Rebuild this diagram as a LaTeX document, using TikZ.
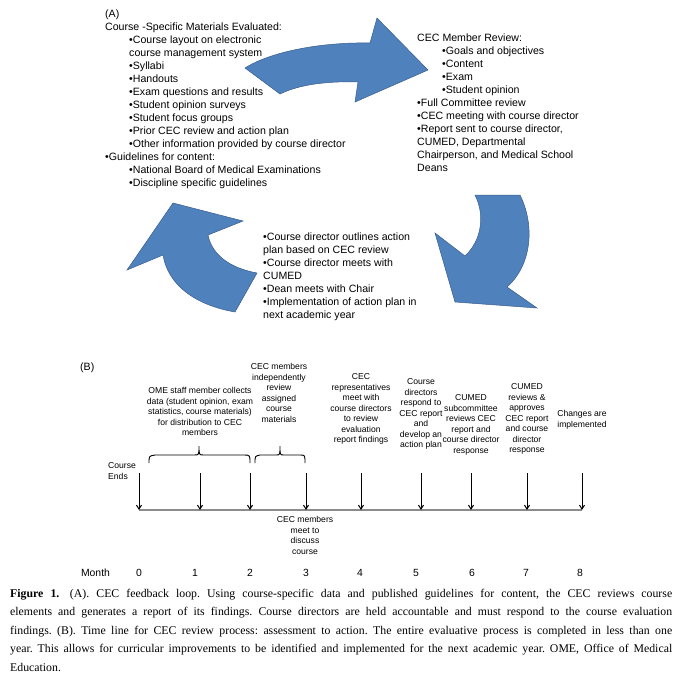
\documentclass[tikz,border=0pt]{standalone}
\usepackage{fontspec}
\setmainfont{Liberation Sans}
\newfontfamily\capfont{Liberation Serif}
\usetikzlibrary{arrows.meta}
\definecolor{arrowblue}{HTML}{4F81BD}
\definecolor{arrowedge}{HTML}{385D8A}
\definecolor{lineGray}{HTML}{8C8C8C}
\begin{document}
\begin{tikzpicture}[x=1pt,y=-1pt,
  loop/.style={fill=arrowblue,draw=arrowedge,line width=0.5pt},
  atext/.style={inner sep=0pt,align=left,anchor=north west,font=\fontsize{10.6}{13}\selectfont},
  btext/.style={inner sep=0pt,align=center,anchor=north,font=\fontsize{8.6}{10.5}\selectfont},
  mtext/.style={inner sep=0pt,anchor=center,font=\fontsize{10.4}{12}\selectfont},
  tick/.style={line width=1pt,-{Straight Barb[length=4pt,width=5pt]}},
  brk/.style={line width=0.9pt},
  timeline/.style={draw=lineGray,line width=1.1pt},
  ]
\useasboundingbox (0,0) rectangle (683,681);

% ---------- Part A ----------
\node[atext] (lblA) at (105,10) {(A)};
\node[atext] (inputs) at (105,23) {Course -Specific Materials Evaluated:\\
\hspace*{24pt}•Course layout on electronic\\
\hspace*{24pt}course management system\\
\hspace*{24pt}•Syllabi\\
\hspace*{24pt}•Handouts\\
\hspace*{24pt}•Exam questions and results\\
\hspace*{24pt}•Student opinion surveys\\
\hspace*{24pt}•Student focus groups\\
\hspace*{24pt}•Prior CEC review and action plan\\
\hspace*{24pt}•Other information provided by course director\\
•Guidelines for content:\\
\hspace*{24pt}•National Board of Medical Examinations\\
\hspace*{24pt}•Discipline specific guidelines};

\node[atext] (review) at (417,34) {CEC Member Review:\\
\hspace*{25pt}•Goals and objectives\\
\hspace*{25pt}•Content\\
\hspace*{25pt}•Exam\\
\hspace*{25pt}•Student opinion\\
•Full Committee review\\
•CEC meeting with course director\\
•Report sent to course director,\\
CUMED, Departmental\\
Chairperson, and Medical School\\
Deans};

\node[atext] (action) at (263,233) {•Course director outlines action\\
plan based on CEC review\\
•Course director meets with\\
CUMED\\
•Dean meets with Chair\\
•Implementation of action plan in\\
next academic year};

% blue loop arrows
\path[loop] (245,68) .. controls (270,52) and (320,42) .. (370,43)
  -- (377,18) -- (428,70) -- (355,102) -- (358,82)
  .. controls (330,81) and (300,84) .. (280,94) -- cycle;
\path[loop] (475,195) -- (520,195)
  .. controls (535,225) and (532,265) .. (507,287)
  -- (537,308) -- (455,302) -- (435,233) -- (465,256)
  .. controls (482,240) and (485,215) .. (475,195) -- cycle;
\path[loop] (235,312) -- (257,273)
  .. controls (230,268) and (212,255) .. (208,235)
  -- (243,221) -- (173,203) -- (127,270) -- (163,255)
  .. controls (168,285) and (195,305) .. (235,312) -- cycle;

% ---------- Part B ----------
\node[atext] (lblB) at (80,363) {(B)};

\foreach \i/\x in {0/139,1/200,2/250,3/306,4/361,5/421,6/471,7/527,8/582}{
  \coordinate (e\i) at (\x,510);
  \coordinate (s\i) at (\x,473);
}
\draw[timeline] (e0) -- (e8);
\foreach \i in {0,...,8}{ \draw[tick] (s\i) -- (e\i); }

\node[mtext] (month) at (95.5,573) {Month};
\foreach \i/\x in {0/139,1/195,2/250,3/306,4/360,5/416,6/472,7/526,8/580}{
  \node[mtext] (m\i) at (\x,573) {\i};
}

\node[btext] (ome) at (200,387.5) {OME staff member collects\\data (student opinion, exam\\statistics, course materials)\\for distribution to CEC\\members};
\node[btext] (indep) at (279,363.5) {CEC members\\independently\\review\\assigned\\course\\materials};
\node[btext] (reps) at (361,373.5) {CEC\\representatives\\meet with\\course directors\\to review\\evaluation\\report findings};
\node[btext] (respond) at (421,378.5) {Course\\directors\\respond to\\CEC report\\and\\develop an\\action plan};
\node[btext] (subc) at (471,394.5) {CUMED\\subcommittee\\reviews CEC\\report and\\course director\\response};
\node[btext] (approve) at (527,383.5) {CUMED\\reviews \&\\approves\\CEC report\\and course\\director\\response};
\node[btext] (changes) at (582,410.5) {Changes are\\implemented};
\node[btext,align=left,anchor=north west] (ends) at (108,462.5) {Course\\Ends};
\node[btext] (meet) at (305,516.5) {CEC members\\meet to\\discuss\\course};

% brackets
\draw[brk] (149,463) .. controls (149,456) .. (155,455) -- (194,455)
  .. controls (199,455) .. (199,446) .. controls (199,455) .. (204,455)
  -- (244,455) .. controls (250,455) .. (250,463);
\draw[brk] (255,463) .. controls (255,456) .. (260,455) -- (276,455)
  .. controls (280,455) .. (280,446) .. controls (280,455) .. (284,455)
  -- (300,455) .. controls (305,455) .. (305,463);

% caption
\node[inner sep=0pt,anchor=north west,text width=662pt,align=justify,
  font=\capfont\fontsize{11.8}{18.4}\selectfont\frenchspacing] (caption) at (10,589)
  {\textbf{Figure 1.}\hspace{0.9em}(A). CEC feedback loop. Using course-specific data and published guidelines for content, the CEC reviews course\linebreak
  elements and generates a report of its findings. Course directors are held accountable and must respond to the course evaluation\linebreak
  findings. (B). Time line for CEC review process: assessment to action. The entire evaluative process is completed in less than one\linebreak
  year. This allows for curricular improvements to be identified and implemented for the next academic year. OME, Office of Medical\linebreak
  Education.};
\end{tikzpicture}
\end{document}
